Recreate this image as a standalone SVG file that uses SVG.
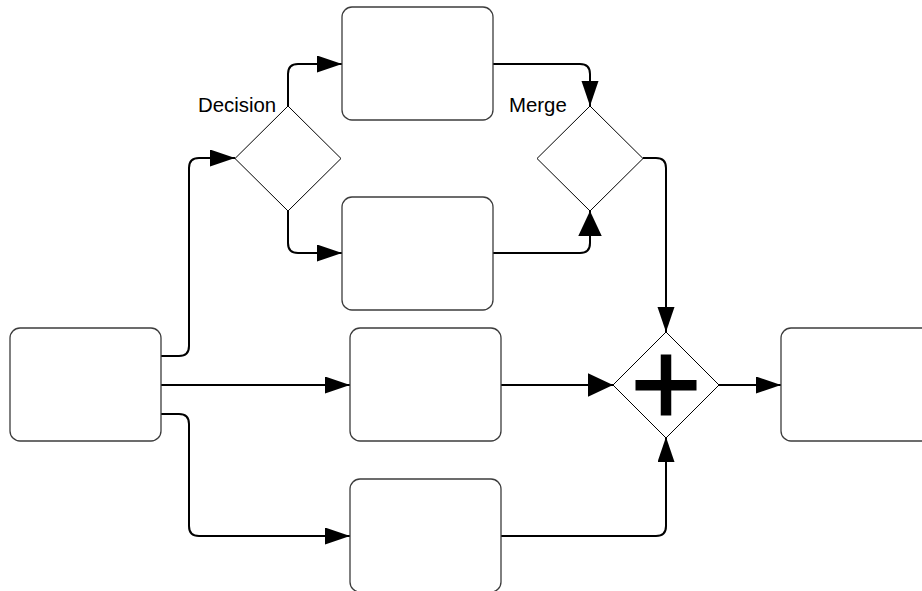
<svg xmlns="http://www.w3.org/2000/svg" width="922" height="591" viewBox="0 0 922 591">
<defs>
<style>
.box{fill:#fff;stroke:#3c3c3c;stroke-width:1.3}
.gw{fill:#fff;stroke:#000;stroke-width:1}
.conn{fill:none;stroke:#000;stroke-width:2}
.lbl{font-family:"Liberation Sans",Arial,sans-serif;font-size:20.4px;fill:#000}
</style>
<marker id="arr" markerUnits="userSpaceOnUse" markerWidth="26" markerHeight="18" refX="25" refY="8.5" orient="auto">
<path d="M0,0 L25,8.5 L0,17 z" fill="#000"/>
</marker>
<marker id="arrW" markerUnits="userSpaceOnUse" markerWidth="26" markerHeight="24" refX="25" refY="11.75" orient="auto">
<path d="M0,0 L25,11.75 L0,23.5 z" fill="#000"/>
</marker>
</defs>
<rect width="922" height="591" fill="#fff"/>
<g id="connectors">
<path class="conn" d="M161,356 H179 Q189,356 189,346 V168 Q189,158 199,158 H235" marker-end="url(#arr)"/>
<path class="conn" d="M288,106 V74 Q288,64 298,64 H342" marker-end="url(#arr)"/>
<path class="conn" d="M288,211 V243 Q288,253 298,253 H342" marker-end="url(#arr)"/>
<path class="conn" d="M493,64 H580 Q590,64 590,74 V106" marker-end="url(#arr)"/>
<path class="conn" d="M493,253 H580 Q590,253 590,243 V211" marker-end="url(#arrW)"/>
<path class="conn" d="M643,158 H656 Q666,158 666,168 V332" marker-end="url(#arr)"/>
<path class="conn" d="M161,385 H350" marker-end="url(#arr)"/>
<path class="conn" d="M501,385 H613" marker-end="url(#arrW)"/>
<path class="conn" d="M161,414 H179 Q189,414 189,424 V526 Q189,536 199,536 H350" marker-end="url(#arr)"/>
<path class="conn" d="M501,536 H656 Q666,536 666,526 V437" marker-end="url(#arr)"/>
<path class="conn" d="M719,385 H781" marker-end="url(#arr)"/>
</g>
<g id="start"><rect class="box" x="10" y="328" width="151" height="113" rx="10"/></g>
<g id="taskUpper"><rect class="box" x="342" y="7" width="151" height="113" rx="10"/></g>
<g id="taskLower"><rect class="box" x="342" y="197" width="151" height="113" rx="10"/></g>
<g id="taskMiddle"><rect class="box" x="350" y="328" width="151" height="113" rx="10"/></g>
<g id="taskBottom"><rect class="box" x="350" y="479" width="151" height="113" rx="10"/></g>
<g id="end"><rect class="box" x="781" y="328" width="151" height="113" rx="10"/></g>
<g id="decision">
<polygon class="gw" points="288,106 341,158.5 288,211 235,158.5"/>
<text class="lbl" x="198" y="112">Decision</text>
</g>
<g id="merge">
<polygon class="gw" points="590,106 643,158.5 590,211 537,158.5"/>
<text class="lbl" x="509" y="112">Merge</text>
</g>
<g id="parallel">
<polygon class="gw" points="666,332 719,385 666,438 613,385"/>
<rect x="635.5" y="380" width="61" height="10.5" fill="#000"/>
<rect x="660.75" y="354.5" width="10.5" height="61" fill="#000"/>
</g>
</svg>
